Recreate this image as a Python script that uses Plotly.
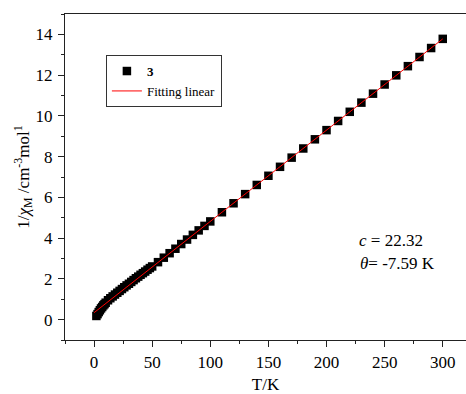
import plotly.graph_objects as go

T_data = [2, 3, 4, 5, 6, 7, 8, 9, 10, 12, 14, 16, 18, 20, 22, 24, 26, 28, 30,
          32, 34, 36, 38, 40, 42, 44, 46, 48, 50, 55, 60, 65, 70, 75, 80, 85,
          90, 95, 100, 110, 120, 130, 140, 150, 160, 170, 180, 190, 200, 210,
          220, 230, 240, 250, 260, 270, 280, 290, 300]
inv_chi = [0.18, 0.27, 0.37, 0.46, 0.55, 0.62, 0.70, 0.76, 0.83, 0.95, 1.05,
           1.14, 1.23, 1.32, 1.41, 1.50, 1.59, 1.68, 1.76, 1.85, 1.94, 2.03,
           2.11, 2.20, 2.28, 2.36, 2.45, 2.53, 2.61, 2.82, 3.04, 3.26, 3.48,
           3.71, 3.93, 4.16, 4.38, 4.60, 4.82, 5.27, 5.71, 6.16, 6.61, 7.06,
           7.50, 7.95, 8.40, 8.85, 9.30, 9.75, 10.20, 10.65, 11.09, 11.54,
           11.99, 12.44, 12.89, 13.33, 13.78]

# Linear fit line endpoints (Curie-Weiss: c = 22.32, theta = -7.59 K)
T_fit = [0, 300]
inv_chi_fit = [0.34, 13.78]

x_ticks = [0, 50, 100, 150, 200, 250, 300]
y_ticks = [0, 2, 4, 6, 8, 10, 12, 14]

FONT = "'Liberation Serif', 'Times New Roman', serif"
AX = "#222222"

fig = go.Figure()
fig.add_trace(go.Scatter(
    x=T_data, y=inv_chi, mode="markers", name="<b>3</b>",
    marker=dict(symbol="square", size=8.5, color="black", line=dict(width=0)),
))
fig.add_trace(go.Scatter(
    x=T_fit, y=inv_chi_fit, mode="lines", name="Fitting linear",
    line=dict(color="red", width=1),
))

fig.add_annotation(x=226, y=3.89, xref="x", yref="y", xanchor="left",
                   yanchor="middle", showarrow=False,
                   text="<i>c</i> = 22.32",
                   font=dict(family=FONT, size=17, color="black"))
fig.add_annotation(x=227.5, y=2.76, xref="x", yref="y", xanchor="left",
                   yanchor="middle", showarrow=False,
                   text="<i>θ</i>= -7.59 K",
                   font=dict(family=FONT, size=17, color="black"))

fig.update_layout(
    width=466, height=394,
    margin=dict(l=65, r=0, t=14, b=54, autoexpand=False),
    paper_bgcolor="white", plot_bgcolor="white",
    font=dict(family=FONT, size=16, color="black"),
    showlegend=True,
    legend=dict(x=0.102, y=0.874, xanchor="left", yanchor="top",
                bordercolor="#333333", borderwidth=1, bgcolor="white",
                font=dict(family=FONT, size=13, color="black"),
                tracegroupgap=0, itemwidth=30),
)
fig.update_xaxes(
    range=[-25, 320], tickvals=x_ticks, ticks="outside", ticklen=6,
    tickwidth=1, tickcolor=AX, showline=True, linecolor=AX, linewidth=1.3,
    mirror=True, showgrid=False, zeroline=False, automargin=True,
    minor=dict(dtick=25, tick0=0, ticks="outside", ticklen=3, tickcolor=AX,
               showgrid=False),
    title=dict(text="T/K", font=dict(family=FONT, size=17), standoff=16),
    tickfont=dict(family=FONT, size=17),
)
fig.update_yaxes(
    range=[-1, 15], tickvals=y_ticks, ticks="outside", ticklen=6,
    tickwidth=1, tickcolor=AX, showline=True, linecolor=AX, linewidth=1.3,
    showgrid=False, zeroline=False, automargin=True,
    ticklabelstandoff=2,
    minor=dict(dtick=1, tick0=0, ticks="outside", ticklen=3, tickcolor=AX,
               showgrid=False),
    title=dict(text="1/<i>χ</i><sub>M</sub> /cm<sup>-3</sup>mol<sup>1</sup>",
               font=dict(family=FONT, size=17), standoff=0),
    tickfont=dict(family=FONT, size=17),
)

fig.write_html("out.html",
               config={"displayModeBar": False},
               post_script="document.body.style.margin='0';"
                           "document.body.style.overflow='hidden';")
